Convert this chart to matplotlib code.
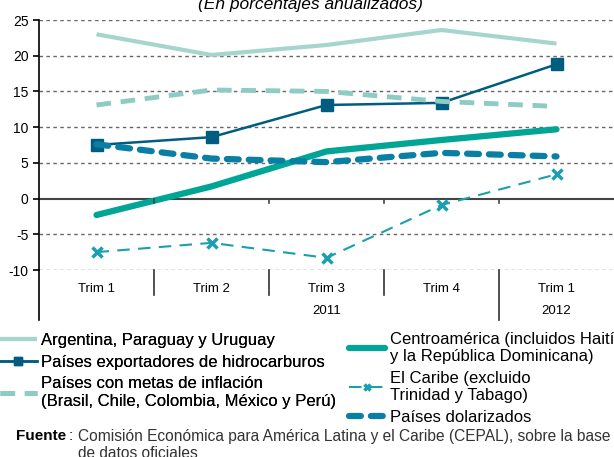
import numpy as np
import matplotlib.pyplot as plt
import matplotlib.transforms as mtransforms

plt.rcParams['font.family'] = ['Liberation Sans', 'DejaVu Sans']
plt.rcParams['axes.unicode_minus'] = False

trimestres = ['Trim 1', 'Trim 2', 'Trim 3', 'Trim 4', 'Trim 1']
anios = ['2011', '2012']
anio_centro = [2, 4]

argentina = [23.0, 20.1, 21.5, 23.6, 21.7]
exportadores = [7.5, 8.6, 13.1, 13.4, 18.8]
metas = [13.1, 15.2, 15.0, 13.6, 12.9]
centroamerica = [-2.3, 1.7, 6.6, 8.2, 9.7]
caribe = [-7.5, -6.2, -8.3, -0.9, 3.4]
dolarizados = [7.6, 5.6, 5.1, 6.4, 5.9]

nombres = ['Argentina, Paraguay y Uruguay',
           'Países exportadores de hidrocarburos',
           'Países con metas de inflación\n(Brasil, Chile, Colombia, México y Perú)',
           'Centroamérica (incluidos Haití\ny la República Dominicana)',
           'El Caribe (excluido\nTrinidad y Tabago)',
           'Países dolarizados']

fig = plt.figure(figsize=(6.14, 4.57), dpi=100)
ax = fig.add_axes([39 / 614, 1 - 270 / 457, 1 - 39 / 614, 250 / 457])

x = np.arange(len(trimestres))

h = []
h += ax.plot(x, argentina, color='#a6d5ce', lw=3, solid_capstyle='butt')
h += ax.plot(x, exportadores, color='#005d80', lw=1.8, marker='s', ms=9)
h += ax.plot(x, metas, color='#8dccc3', lw=3.5, ls=(0, (3, 2)))
h += ax.plot(x, centroamerica, color='#00a596', lw=4.5, solid_capstyle='round')
h += ax.plot(x, caribe, color='#1a9fb0', lw=1.5, ls=(0, (6, 4)), marker='x', ms=7, mew=2.5)
h += ax.plot(x, dolarizados, color='#0a7fa4', lw=4.5, ls=(0, (1.9, 1.6)), dash_capstyle='round')

ax.set_xlim(-0.5, len(trimestres) - 0.5)
ax.set_ylim(-10, 25)
ax.set_yticks(np.arange(-10, 26, 5))
for v in np.arange(-10, 26, 5):
    if v != 0:
        ax.axhline(v, color='#666666', lw=1, ls=(0, (2.5, 2.5)), zorder=0)
ax.axhline(0, color='#444444', lw=1.5, zorder=1)

for s in ['top', 'right', 'bottom']:
    ax.spines[s].set_visible(False)
ax.spines['left'].set_linewidth(1.2)
ax.tick_params(axis='y', labelsize=10, length=4, width=1.2)
ax.set_xticks([])

# ticks on the zero line
for b in x[1:] - 0.5:
    ax.plot([b, b], [0, -0.6], color='#444444', lw=1.2)

tr = mtransforms.blended_transform_factory(ax.transData, ax.transAxes)
for i, t in enumerate(trimestres):
    ax.text(i, -0.075, t, transform=tr, ha='center', va='center', fontsize=9.5)
for b in x[1:] - 0.5:
    bottom = -0.2 if b == 3.5 else -0.1
    ax.plot([b, b], [0, bottom], transform=tr, color='#333333', lw=1.2, clip_on=False)
for a, c in zip(anios, anio_centro):
    ax.text(c, -0.165, a, transform=tr, ha='center', va='center', fontsize=9.5)
ax.plot([-0.5, -0.5], [0, -0.2], transform=tr, color='black', lw=1.2, clip_on=False)

fig.text(0.505, 0.99, '(En porcentajes anualizados)', ha='center', va='center',
         fontsize=12.5, style='italic')

kw = dict(frameon=False, fontsize=12, handlelength=2.2, handletextpad=0.25,
          borderaxespad=0, borderpad=0, markerscale=0.7, loc='upper left')
leg1 = fig.legend(h[:3], nombres[:3], bbox_to_anchor=(0.0, 0.2713),
                  labelspacing=0.4, **kw)
fig.add_artist(leg1)
fig.legend(h[3:], nombres[3:], bbox_to_anchor=(0.568, 0.274),
           labelspacing=0.4, **kw)

fig.text(0.026, 0.045, 'Fuente', fontsize=11, fontweight='bold', va='center')
fig.text(0.112, 0.045, ':', fontsize=11, va='center')
fig.text(0.127, 0.045, 'Comisión Económica para América Latina y el Caribe (CEPAL), sobre la base',
         fontsize=11.2, va='center', color='#333333')
fig.text(0.127, 0.008, 'de datos oficiales', fontsize=11.2, va='center', color='#333333')

fig.savefig('out.png', dpi=100)
